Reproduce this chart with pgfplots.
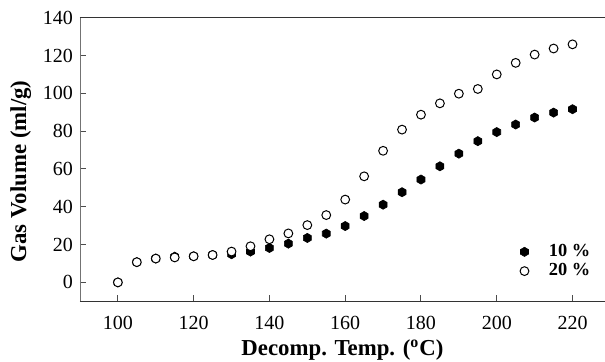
\documentclass[border=0pt]{standalone}
\usepackage{fontspec}
\setmainfont{Liberation Serif}
\usepackage{pgfplots}
\pgfplotsset{compat=1.18}
\pgfdeclareplotmark{hexagon*}{%
  \pgfpathmoveto{\pgfqpointpolar{90}{\pgfplotmarksize}}%
  \pgfpathlineto{\pgfqpointpolar{150}{\pgfplotmarksize}}%
  \pgfpathlineto{\pgfqpointpolar{210}{\pgfplotmarksize}}%
  \pgfpathlineto{\pgfqpointpolar{270}{\pgfplotmarksize}}%
  \pgfpathlineto{\pgfqpointpolar{330}{\pgfplotmarksize}}%
  \pgfpathlineto{\pgfqpointpolar{30}{\pgfplotmarksize}}%
  \pgfpathclose
  \pgfusepathqfillstroke}
\begin{document}
\fontsize{10}{12}\selectfont
\begin{tikzpicture}
\useasboundingbox (-40pt,-30.35pt) rectangle (262.5pt,150.65pt);
\begin{axis}[
  scale only axis,
  width=263.5pt, height=141.8pt,
  xmin=90, xmax=229.1, ymin=-10, ymax=140,
  axis x line*=bottom, axis y line*=left,
  x axis line style={black!80},
  y axis line style={black!55},
  every outer x axis line/.append style={-},
  every outer y axis line/.append style={-},
  xtick={100,120,...,220}, ytick={0,20,...,140},
  tick align=inside, major tick length=3pt,
  tick style={black!70, line width=0.5pt},
  /pgf/number format/assume math mode=true,
  ticklabel style={font=\fontsize{10}{12}\selectfont},
  xticklabel style={yshift=-4pt},
  xlabel={\bfseries Decomp. Temp. (\textsuperscript{o}C)},
  ylabel={\bfseries Gas Volume (ml/g)},
  label style={font=\fontsize{11.4}{13}\selectfont},
  xlabel style={at={(axis description cs:0.498,-0.172)}, anchor=center},
  ylabel style={at={(axis description cs:-0.1125,0.458)}, anchor=center},
  legend style={at={(0.988,0.05)}, anchor=south east, draw=none, fill=none,
    font=\bfseries\fontsize{9.2}{11}\selectfont, row sep=-2pt,
    /tikz/every odd column/.append style={column sep=8pt}},
  legend cell align=left,
  clip=false,
]
\draw[black!80] (rel axis cs:0,1) -- (rel axis cs:1,1);
\addplot[only marks, mark=hexagon*, mark size=2.3pt, black, mark options={fill=black, line width=0.3pt}]
coordinates {
(100,0) (105,10.7) (110,12.6) (115,13.6) (120,13.8) (125,14.5) (130,14.9) (135,16.3)
(140,18.2) (145,20.5) (150,23.5) (155,25.8) (160,29.8) (165,35.1) (170,41.1) (175,47.7)
(180,54.4) (185,61.4) (190,68.1) (195,74.7) (200,79.5) (205,83.5) (210,87.2) (215,89.8) (220,91.6)
};
\addlegendentry{10 \%}
\addplot[only marks, mark=*, mark size=2.2pt, black, mark options={fill=white, line width=0.5pt}]
coordinates {
(100,0) (105,10.7) (110,12.6) (115,13.2) (120,13.8) (125,14.5) (130,16.3) (135,19.1)
(140,22.8) (145,25.9) (150,30.3) (155,35.6) (160,43.8) (165,56.1) (170,69.6) (175,80.8)
(180,88.7) (185,94.7) (190,99.8) (195,102.3) (200,110.0) (205,116.1) (210,120.5) (215,123.7) (220,125.9)
};
\addlegendentry{20 \%}
\end{axis}
\end{tikzpicture}
\end{document}
